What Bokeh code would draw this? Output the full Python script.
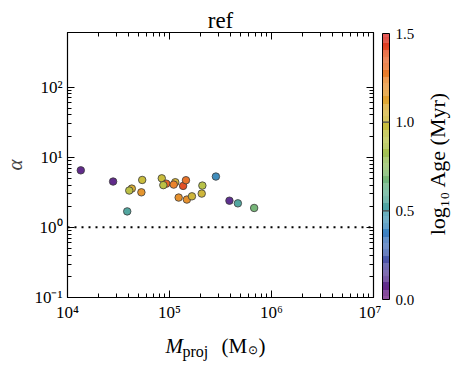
import math
from bokeh.plotting import figure
from bokeh.layouts import row, column
from bokeh.models import (Range1d, FixedTicker, CustomJSTickFormatter, LogAxis, Span,
                          ColumnDataSource)
from bokeh.transform import linear_cmap
from bokeh.core.properties import value
from bokeh.embed import file_html
from bokeh.resources import INLINE

# ---- data ----
mass = [1.35e4, 2.8e4, 3.85e4, 4.27e4, 4.03e4, 5.4e4, 5.3e4, 8.4e4, 9.3e4, 8.7e4,
        1.14e5, 1.10e5, 1.36e5, 1.45e5, 1.23e5, 1.48e5, 1.66e5, 2.07e5, 2.10e5,
        2.85e5, 3.87e5, 4.68e5, 6.76e5]
alpha = [6.5, 4.5, 1.69, 3.57, 3.35, 4.74, 3.16, 5.0, 4.2, 4.0,
         4.4, 4.07, 3.9, 4.7, 2.66, 2.49, 2.77, 3.03, 3.94,
         5.3, 2.4, 2.2, 1.89]
log_age = [0.08, 0.08, 0.55, 1.08, 0.92, 1.0, 1.18, 1.0, 1.35, 0.93,
           1.05, 1.25, 1.4, 1.3, 1.2, 1.2, 1.03, 1.03, 0.9,
           0.42, 0.1, 0.55, 0.68]

x_major = [1e4, 1e5, 1e6, 1e7]
y_major = [0.1, 1.0, 10.0, 100.0]
cbar_ticks = [0.0, 0.5, 1.0, 1.5]
cbar_tick_labels = ["0.0", "0.5", "1.0", "1.5"]
age_low, age_high = 0.0, 1.5
ref_level = 1.0
title_text = "ref"
cbar_label = "log\u2081\u2080 Age (Myr)"

# ---- colour map (purple -> blue -> teal -> green -> yellow -> orange -> red) ----
anchors = [(0.00, "#6e1a7e"), (0.12, "#5a3592"), (0.25, "#4760b0"), (0.38, "#3d84c4"),
           (0.50, "#48a0aa"), (0.62, "#62b08e"), (0.75, "#8dbd62"), (0.88, "#b3c34a"),
           (1.00, "#c9bc3c"), (1.12, "#dfa532"), (1.25, "#ea842c"), (1.38, "#e55a26"),
           (1.50, "#d9201e")]

def hex2rgb(h):
    return tuple(int(h[i:i + 2], 16) for i in (1, 3, 5))

palette = []
N = 256
for i in range(N):
    v = age_low + (age_high - age_low) * i / (N - 1)
    for j in range(len(anchors) - 1):
        a0, c0 = anchors[j]
        a1, c1 = anchors[j + 1]
        if a0 <= v <= a1 + 1e-9:
            t = (v - a0) / (a1 - a0)
            r0, g0, b0 = hex2rgb(c0)
            r1, g1, b1 = hex2rgb(c1)
            palette.append("#%02x%02x%02x" % (round(r0 + (r1 - r0) * t),
                                               round(g0 + (g1 - g0) * t),
                                               round(b0 + (b1 - b0) * t)))
            break

FONT = "Liberation Serif"
LEFT, FW, RIGHT, TOP, FH, BOTTOM = 65, 306, 8, 32, 265, 36

# ================= main plot =================
p = figure(frame_width=FW, frame_height=FH, x_axis_type="log", y_axis_type="log",
           x_range=Range1d(1e4, 1e7), y_range=Range1d(0.1, 600),
           output_backend="svg", toolbar_location=None,
           min_border_left=LEFT, min_border_right=RIGHT, min_border_top=TOP,
           min_border_bottom=BOTTOM)
p.grid.visible = False
p.outline_line_color = "black"
p.outline_line_width = 1.2
p.background_fill_color = "white"
p.border_fill_color = "white"
p.title.text = title_text
p.title.align = "center"
p.title.text_font = FONT
p.title.text_font_size = "23px"
p.title.text_font_style = "normal"
p.title.text_color = "black"
p.title.standoff = 0

def minors(majors):
    out = []
    for m in majors[:-1]:
        for k in range(2, 10):
            out.append(m * k)
    return out

sup_code = """
const sup = {'-':'\u207b','0':'\u2070','1':'\u00b9','2':'\u00b2','3':'\u00b3','4':'\u2074',
             '5':'\u2075','6':'\u2076','7':'\u2077','8':'\u2078','9':'\u2079'};
const e = Math.round(Math.log10(tick)).toString();
return '10' + e.split('').map(c => sup[c]).join('');
"""

def style_axis(ax, majors, show_labels=True):
    ax.ticker = FixedTicker(ticks=majors, minor_ticks=minors(majors))
    ax.major_tick_in = 7
    ax.major_tick_out = 0
    ax.minor_tick_in = 4
    ax.minor_tick_out = 0
    ax.axis_line_color = "black"
    ax.major_tick_line_color = "black"
    ax.minor_tick_line_color = "black"
    if show_labels:
        ax.formatter = CustomJSTickFormatter(code=sup_code)
        ax.major_label_text_font = FONT
        ax.major_label_text_font_size = "17px"
        ax.major_label_text_color = "black"
        ax.major_label_standoff = 5
    else:
        ax.major_label_text_font_size = "1px"
        ax.major_label_text_alpha = 0
        ax.major_label_standoff = 0

style_axis(p.xaxis[0], x_major)
style_axis(p.yaxis[0], y_major)
p.yaxis[0].axis_label = "\u03b1"
p.yaxis[0].axis_label_text_font = FONT
p.yaxis[0].axis_label_text_font_style = "italic"
p.yaxis[0].axis_label_text_font_size = "21px"
p.yaxis[0].axis_label_standoff = 4

top_ax = LogAxis()
style_axis(top_ax, x_major, show_labels=False)
p.add_layout(top_ax, "above")
right_ax = LogAxis()
style_axis(right_ax, y_major, show_labels=False)
p.add_layout(right_ax, "right")

p.add_layout(Span(location=ref_level, dimension="width", line_color="black",
                  line_width=2, line_dash="2 5"))

src = ColumnDataSource(dict(mass=mass, alpha=alpha, age=log_age))
p.scatter("mass", "alpha", source=src, size=7.5, line_color="#3a3a3a", line_width=0.8,
          fill_color=linear_cmap("age", palette, age_low, age_high))

# ================= x-axis label strip (frame aligned under the main frame) =================
XL_H = 365 - (TOP + FH + BOTTOM)
xl = figure(frame_width=FW, frame_height=XL_H, x_range=Range1d(0, FW), y_range=Range1d(0, XL_H),
            output_backend="svg", toolbar_location=None, min_border=0,
            x_axis_location=None, y_axis_location=None)
xl.grid.visible = False
xl.outline_line_color = None
# (text, left px, baseline px from strip bottom, size, style)
parts = [("M", 98, 20, "21px", "italic"), ("proj", 115, 14, "16px", "normal"),
         ("(M", 154, 20, "21px", "normal"), ("\u2299", 180, 16, "12px", "normal"),
         (")", 191, 20, "21px", "normal")]
for txt, px, py, fs, st in parts:
    xl.text(x=[px], y=[py], text=[txt], text_font=value(FONT), text_font_size=fs,
            text_font_style=st, text_align="left", text_baseline="alphabetic", text_color="black")

# ================= colour bar =================
CB_W, CB_H = 458 - (LEFT + FW + RIGHT), 365
px_per_unit = 266 / (age_high - age_low)     # bar is 266 px tall
cb_top = age_high + 33 / px_per_unit
cb_bot = age_low - (CB_H - 299) / px_per_unit
c = figure(frame_width=CB_W, frame_height=CB_H, x_range=Range1d(0, CB_W),
           y_range=Range1d(cb_bot, cb_top), output_backend="svg", toolbar_location=None,
           min_border=0, x_axis_location=None, y_axis_location=None)
c.grid.visible = False
c.outline_line_color = None
step = (age_high - age_low) / N
c.quad(left=1, right=8, bottom=[age_low + i * step for i in range(N)],
       top=[age_low + (i + 1) * step for i in range(N)], fill_color=palette, line_color=None)
c.quad(left=[1], right=[8], bottom=[age_low], top=[age_high], fill_color=None,
       line_color="black", line_width=1)
inner = [t for t in cbar_ticks if age_low < t < age_high]
c.segment(x0=1, x1=8, y0=inner, y1=inner, line_color="#444444", line_width=1.2)
c.text(x=14, y=cbar_ticks, text=cbar_tick_labels, text_font=value(FONT), text_font_size="15px",
       text_align="left", text_baseline="middle", text_color="black")
c.text(x=[56], y=[(299 - 163) / px_per_unit], text=[cbar_label], text_font=value(FONT),
       text_font_size="22px", text_align="center", text_baseline="middle", angle=math.pi / 2,
       text_color="black")

layout = row(column(p, xl), c)
open("out.html", "w").write(file_html(layout, INLINE))
